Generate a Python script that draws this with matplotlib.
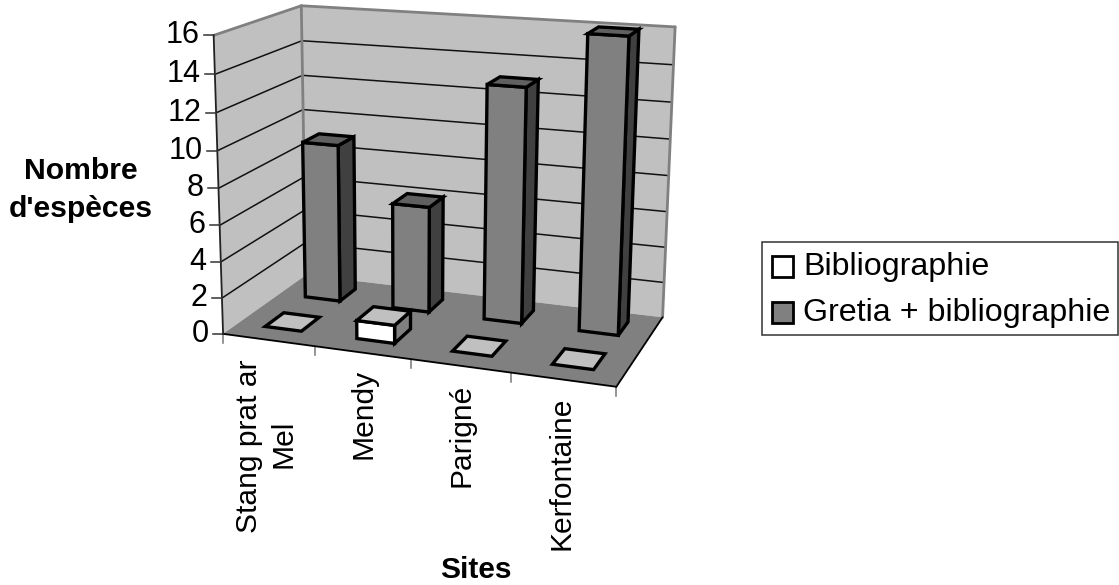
import numpy as np
import matplotlib
matplotlib.use("Agg")
import matplotlib.pyplot as plt
from matplotlib.patches import Polygon, Rectangle

plt.rcParams['font.family'] = ['Liberation Sans', 'DejaVu Sans']

sites = ["Stang prat ar\nMel", "Mendy", "Parigné", "Kerfontaine"]
biblio = [0, 1, 0, 0]
gretia = [9, 6, 13, 16]
yticks = [0, 2, 4, 6, 8, 10, 12, 14, 16]
xmax = len(sites)
zmax = 16

# the chart box corners as seen in the picture, used to fit the camera
# (x, depth, z) -> pixel
box_pts = [(0, 0, 0), (4, 0, 0), (0, 1, 0), (4, 1, 0), (0, 0, 16), (0, 1, 16), (4, 1, 16)]
box_px = [(224, 334), (616, 387), (305, 275), (663, 317), (213, 35), (302, 6), (675, 27)]


def fitCamera(pts, px):
	rows = []
	for (x, y, z), (u, v) in zip(pts, px):
		X = [x / xmax, y, z / zmax, 1]
		u, v = u / 1000, v / 1000
		rows.append(X + [0, 0, 0, 0] + [-u * c for c in X])
		rows.append([0, 0, 0, 0] + X + [-v * c for c in X])
	_, _, vt = np.linalg.svd(np.array(rows))
	return vt[-1].reshape(3, 4)


P = fitCamera(box_pts, box_px)


def project(x, y, z):
	h = P @ np.array([x / xmax, y, z / zmax, 1])
	return h[0] / h[2] * 1000, h[1] / h[2] * 1000


def face(ax, corners, color, lw=0, ec='none', zorder=2):
	ax.add_patch(Polygon([project(*c) for c in corners], closed=True, fc=color, ec=ec,
		lw=lw, joinstyle='miter', zorder=zorder))


def line3(ax, a, b, color='black', lw=1.0, zorder=3):
	pa, pb = project(*a), project(*b)
	ax.plot([pa[0], pb[0]], [pa[1], pb[1]], color=color, lw=lw, zorder=zorder, solid_capstyle='round')


def drawBar(ax, i, y0, y1, val, front, side, top, zorder):
	x0, x1 = i + 0.3, i + 0.7
	opts = dict(lw=2.4, ec='black', zorder=zorder)
	if val > 0:
		face(ax, [(x1, y0, 0), (x1, y1, 0), (x1, y1, val), (x1, y0, val)], side, **opts)
		face(ax, [(x0, y0, 0), (x1, y0, 0), (x1, y0, val), (x0, y0, val)], front, **opts)
	face(ax, [(x0, y0, val), (x1, y0, val), (x1, y1, val), (x0, y1, val)], top, **opts)


fig = plt.figure(figsize=(11.19, 5.85), dpi=100)
ax = fig.add_axes([0, 0, 1, 1])
ax.set_xlim(0, 1119)
ax.set_ylim(585, 0)
ax.axis('off')

# walls and floor
face(ax, [(0, 0, 0), (0, 1, 0), (0, 1, zmax), (0, 0, zmax)], '#C0C0C0')
face(ax, [(0, 1, 0), (xmax, 1, 0), (xmax, 1, zmax), (0, 1, zmax)], '#C0C0C0')
face(ax, [(0, 0, 0), (xmax, 0, 0), (xmax, 1, 0), (0, 1, 0)], '#808080')

for t in yticks[1:-1]:
	line3(ax, (0, 0, t), (0, 1, t), color='#111111', lw=1.1)
	line3(ax, (0, 1, t), (xmax, 1, t), color='#111111', lw=1.1)

grey = '#808080'
line3(ax, (0, 0, zmax), (0, 1, zmax), color=grey, lw=2)
line3(ax, (0, 1, zmax), (xmax, 1, zmax), color=grey, lw=2)
line3(ax, (0, 1, 0), (0, 1, zmax), color=grey, lw=2)
line3(ax, (xmax, 1, 0), (xmax, 1, zmax), color=grey, lw=2)
line3(ax, (0, 0, 0), (0, 0, zmax), color='#222222', lw=1.3)
line3(ax, (0, 0, 0), (xmax, 0, 0), color='black', lw=1.3)
line3(ax, (xmax, 0, 0), (xmax, 1, 0), color='black', lw=1.3)

# z axis ticks and labels
for t in yticks:
	u, v = project(0, 0, t)
	ax.plot([u - 10, u], [v, v], color='#333333', lw=1.1, zorder=3)
	ax.text(u - 14.5, v, str(t), ha='right', va='center', fontsize=22, color='black')

# x axis ticks
for i in range(xmax + 1):
	u, v = project(i, 0, 0)
	ax.plot([u, u], [v, v + 9], color='#777777', lw=1.1, zorder=1)

# bars, back row first
for i, val in enumerate(gretia):
	drawBar(ax, i, 0.66, 0.87, val, '#808080', '#404040', '#606060', 5 + i)
for i, val in enumerate(biblio):
	drawBar(ax, i, 0.17, 0.39, val, 'white', '#808080', '#C0C0C0', 10 + i)

# category labels
lab = dict(rotation=90, ha='center', va='bottom', fontsize=21.6, color='black')
ax.text(249, 533, "Stang prat ar", **lab)
ax.text(284, 468, "Mel", **lab)
ax.text(363, 459, "Mendy", **lab)
ax.text(461, 487, "Parigné", **lab)
ax.text(561, 550, "Kerfontaine", **lab)

ax.text(476, 570, "Sites", ha='center', va='center', fontsize=21.5, fontweight='bold')
ax.text(81, 190, "Nombre\nd'espèces", ha='center', va='center', fontsize=21.7,
	fontweight='bold', linespacing=1.42)

# legend box
ax.add_patch(Rectangle((762, 242), 356, 93, fc='white', ec='#333333', lw=1.1, zorder=2))
ax.add_patch(Rectangle((772, 256), 21, 21, fc='white', ec='black', lw=2, zorder=3))
ax.add_patch(Rectangle((772, 302), 21, 21, fc='#808080', ec='black', lw=2, zorder=3))
ax.text(803, 267, "Bibliographie", ha='left', va='center', fontsize=23.2)
ax.text(803, 313, "Gretia + bibliographie", ha='left', va='center', fontsize=23.2)

fig.savefig('out.png', dpi=100)
